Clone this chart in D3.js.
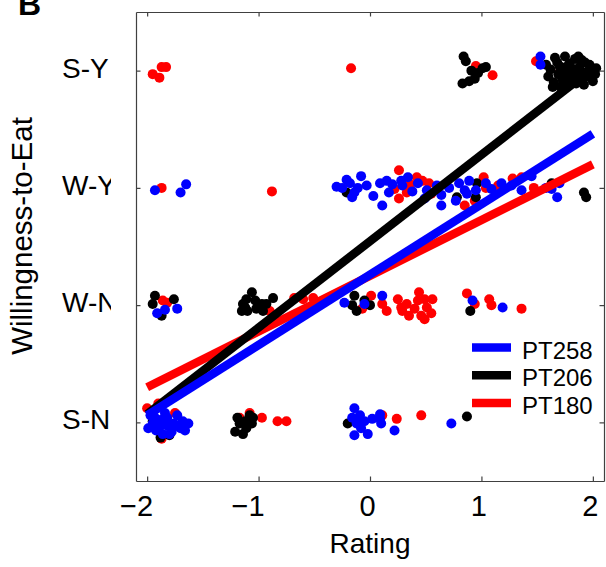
<!DOCTYPE html>
<html>
<head>
<meta charset="utf-8">
<script src="https://cdn.jsdelivr.net/npm/d3@7"></script>
<style>
  body { margin: 0; background: #fff; }
  text { font-family: "Liberation Sans", Arial, sans-serif; }
</style>
</head>
<body>
<svg id="chart"></svg>
<script>
// Willingness categories and tick labels
const yTicks = [1, 2, 3, 4];
const yLabels = ["S-N", "W-N", "W-Y", "S-Y"];
const xTicks = [-2, -1, 0, 1, 2];

// Legend order
const subjects = ["PT258", "PT206", "PT180"];
const colors = ["#0000ff", "#000000", "#ff0000"];

// Regression lines: rating range and fitted willingness at both ends
const fitX = [-2, 2];
const fitPT258 = [1.06, 3.46];
const fitPT206 = [1.07, 4.02];
const fitPT180 = [1.30, 3.20];

// Jittered trials [rating, willingness]
const pt180 = [
  [-1.95,3.97],[-1.89,3.94],[-1.87,4.03],[-1.83,4.03],[-0.17,4.02],[0.95,4.04],[1.10,3.96],[1.49,4.08],[1.70,3.98],[1.85,4.00],
  [-1.87,3.00],[-0.88,2.97],[0.26,3.15],[0.42,3.09],[0.47,3.06],[0.22,2.99],[0.33,2.96],[0.26,2.91],[0.53,3.04],[1.02,3.09],
  [1.04,3.00],[1.28,3.08],[1.36,3.09],[1.47,3.00],[0.85,2.85],[0.94,2.89],[0.36,3.03],[0.55,2.95],[1.15,3.02],
  [-1.86,2.04],[-1.82,2.02],[-0.90,1.95],[-0.68,2.06],[-0.60,2.05],[-0.51,2.06],[0.01,2.08],[0.11,2.01],[0.15,1.95],[-0.07,1.97],
  [0.25,2.05],[0.28,1.98],[0.33,2.01],[0.35,1.91],[0.44,2.11],[0.43,2.04],[0.49,2.05],[0.56,2.05],[0.51,1.98],[0.55,1.93],
  [0.49,1.88],[0.46,1.91],[0.29,1.95],[0.40,1.97],[0.87,2.10],[0.94,2.01],[1.07,2.05],[1.09,2.00],[1.36,1.97],
  [-2.00,1.12],[-1.90,1.16],[-1.87,0.86],[-1.75,1.08],[-1.17,1.04],[-0.97,1.04],[-1.08,1.08],[-0.83,1.01],[-0.75,1.01],
  [0.11,1.06],[0.24,1.03],[0.46,1.06]
];

const pt206 = [
  [0.84,4.12],[0.86,4.08],[0.91,4.00],[0.94,3.93],[0.83,3.89],[1.01,4.02],[1.04,4.03],[0.97,3.98],[0.89,3.91],
  [1.62,4.01],[1.66,4.11],[1.70,4.04],[1.75,4.12],[1.79,4.06],[1.84,4.10],[1.88,4.03],[1.93,4.07],[1.98,4.00],[2.02,3.97],
  [1.60,3.95],[1.65,3.90],[1.69,3.97],[1.73,3.92],[1.78,3.99],[1.82,3.94],[1.86,3.98],[1.91,3.93],[1.95,3.99],[2.00,3.91],
  [1.64,3.86],[1.68,4.07],[1.72,4.00],[1.77,3.88],[1.81,4.02],[1.85,3.89],[1.90,4.09],[1.94,3.95],[1.97,4.05],[2.03,4.02],
  [1.58,4.05],[1.71,3.86],[1.76,4.03],[1.83,3.96],[1.87,4.12],[1.92,3.88],[1.99,3.94],[1.74,3.96],[1.80,3.91],[1.89,3.96],
  [-0.21,2.96],[0.78,2.92],[0.95,2.92],[0.96,3.04],[1.63,3.04],[1.92,2.96],[1.94,2.92],
  [-1.93,2.08],[-1.95,2.01],[-1.76,2.05],[-1.87,1.91],
  [-1.06,2.11],[-1.11,2.05],[-1.14,2.01],[-1.15,1.95],[-1.10,1.95],[-1.03,2.04],[-1.02,1.97],[-0.96,1.95],[-0.93,2.01],
  [-0.87,2.06],[-0.97,2.01],[-1.12,1.98],
  [-0.14,2.08],[-0.16,2.00],[-0.12,1.95],[-0.05,2.04],[0.00,2.00],[0.90,1.95],
  [-1.88,0.87],[-1.80,0.89],[-1.95,1.01],
  [-1.19,1.04],[-1.17,0.99],[-1.12,1.01],[-1.08,1.06],[-1.05,1.04],[-1.11,0.95],[-1.14,0.90],[-1.21,0.92],[-1.06,0.99],
  [-0.20,0.99],[0.87,1.05]
];

const pt258 = [
  [1.53,4.12],[1.53,4.05],
  [-1.93,2.98],[-1.70,2.96],[-1.65,3.03],
  [-0.25,3.00],[-0.18,3.04],[-0.14,2.96],[-0.08,3.10],[-0.03,3.02],[-0.16,2.92],[0.09,3.04],[0.11,2.85],[0.15,3.06],[0.17,2.96],
  [0.28,3.06],[0.34,3.09],[0.29,3.02],[0.43,3.04],[0.51,2.98],[0.49,2.91],[0.60,3.02],[0.64,2.94],[0.64,2.85],[0.71,3.00],
  [0.80,3.04],[0.85,2.98],[0.89,3.06],[0.87,2.95],[0.95,2.98],[0.77,2.89],[1.04,3.04],[1.09,2.99],[1.18,3.04],[1.27,3.02],
  [1.36,2.98],[1.45,3.10],[1.58,3.00],[1.63,2.99],[1.70,3.04],[1.68,2.92],
  [-0.30,3.01],[-0.21,3.07],[-0.11,3.00],[0.03,2.93],[0.20,3.03],[0.38,2.97],
  [-1.91,1.93],[-1.84,1.96],[-1.73,1.97],[-0.23,2.02],[-0.05,2.01],[0.11,2.08],[0.92,2.04],[1.19,1.98],
  [-1.97,1.06],[-1.95,0.99],[-1.90,0.95],[-1.82,1.04],[-1.73,1.06],[-1.68,1.01],[-1.63,0.99],[-1.66,0.93],[-1.78,0.92],
  [-1.86,0.90],[-1.99,0.95],[-1.73,0.97],[-1.81,0.97],[-1.93,1.04],[-1.88,1.02],[-1.76,0.99],[-1.92,0.93],[-1.70,0.95],
  [-1.84,1.08],[-1.95,1.08],[-1.80,0.90],[-1.86,0.98],
  [-0.14,1.12],[-0.16,1.04],[-0.09,1.06],[-0.05,1.01],[-0.12,0.99],[-0.08,0.95],[-0.02,0.90],[-0.14,0.89],[0.02,1.03],
  [0.09,1.07],[0.10,0.99],[0.09,1.03],[0.22,0.93],[0.73,0.99]
];

const width = 606;
const height = 567;
const margin = {top: 12, right: 2, bottom: 86, left: 136};

const svg = d3.select("#chart")
    .attr("width", width)
    .attr("height", height);

const x = d3.scaleLinear()
    .domain([-2.1, 2.1])
    .range([margin.left, width - margin.right]);

const y = d3.scaleLinear()
    .domain([0.5, 4.5])
    .range([height - margin.bottom, margin.top]);

const axisColor = "#404040";

// Points: red first, then black, then blue
const pointSets = [
    {data: pt180, color: colors[2]},
    {data: pt206, color: colors[1]},
    {data: pt258, color: colors[0]}
];
pointSets.forEach(s => {
    svg.append("g")
        .selectAll("circle")
        .data(s.data)
        .enter()
        .append("circle")
        .attr("cx", d => x(d[0]))
        .attr("cy", d => y(d[1]))
        .attr("r", 5)
        .attr("fill", s.color);
});

// Fitted lines
const line = d3.line().x(d => x(d[0])).y(d => y(d[1]));
const fits = [
    {vals: fitPT180, color: colors[2]},
    {vals: fitPT206, color: colors[1]},
    {vals: fitPT258, color: colors[0]}
];
fits.forEach(f => {
    svg.append("path")
        .datum(fitX.map((v, i) => [v, f.vals[i]]))
        .attr("d", line)
        .attr("fill", "none")
        .attr("stroke", f.color)
        .attr("stroke-width", 8.5);
});

// Axes (box with inward ticks)
const xAxis = svg.append("g")
    .attr("transform", `translate(0,${y(0.5)})`)
    .call(d3.axisBottom(x).tickValues(xTicks).tickFormat(d3.format("d"))
        .tickSizeInner(-4.5).tickSizeOuter(0).tickPadding(14));
xAxis.selectAll("text")
    .attr("font-size", 29)
    .attr("font-family", "Liberation Sans, Arial, sans-serif")
    .attr("fill", "#000")
    .attr("dy", "0.71em")
    .attr("dx", d => d < 0 ? -11 : -3);

svg.append("g")
    .attr("transform", `translate(0,${y(4.5)})`)
    .call(d3.axisTop(x).tickValues(xTicks).tickSizeInner(-4.5).tickSizeOuter(0).tickFormat(""));

svg.append("g")
    .attr("transform", `translate(${x(2.1)},0)`)
    .call(d3.axisRight(y).tickValues(yTicks).tickSizeInner(-4.5).tickSizeOuter(0).tickFormat(""));

svg.append("g")
    .attr("transform", `translate(${x(-2.1)},0)`)
    .call(d3.axisLeft(y).tickValues(yTicks).tickSizeInner(-4.5).tickSizeOuter(0).tickFormat(""));

// y tick labels, left aligned and clipped like the original
svg.append("clipPath")
    .attr("id", "ylabclip")
    .append("rect")
    .attr("x", 0).attr("y", 0)
    .attr("width", 111).attr("height", height);

svg.append("g")
    .attr("clip-path", "url(#ylabclip)")
    .selectAll("text")
    .data(yTicks)
    .enter()
    .append("text")
    .attr("x", 62)
    .attr("y", d => y(d) + 7)
    .attr("font-size", 28)
    .attr("fill", "#000")
    .text((d, i) => yLabels[i]);

svg.selectAll(".domain, .tick line").attr("stroke", axisColor).attr("stroke-width", 1.2);

// Axis titles
svg.append("text")
    .attr("x", (x(-2.1) + x(2.1)) / 2)
    .attr("y", 553)
    .attr("text-anchor", "middle")
    .attr("font-size", 28)
    .text("Rating");

svg.append("text")
    .attr("transform", `translate(32,236) rotate(-90)`)
    .attr("text-anchor", "middle")
    .attr("font-size", 29.5)
    .text("Willingness-to-Eat");

// Panel letter (cut at the top edge as in the original)
svg.append("text")
    .attr("x", 18)
    .attr("y", 15)
    .attr("font-size", 32)
    .attr("font-weight", "bold")
    .text("B");

// Legend
const legend = svg.append("g");
subjects.forEach((name, i) => {
    const ly = 347.5 + i * 27.7;
    legend.append("line")
        .attr("x1", 472).attr("x2", 511)
        .attr("y1", ly).attr("y2", ly)
        .attr("stroke", colors[i])
        .attr("stroke-width", 8.5);
    legend.append("text")
        .attr("x", 522)
        .attr("y", ly + 11)
        .attr("font-size", 24)
        .text(name);
});
</script>
</body>
</html>
